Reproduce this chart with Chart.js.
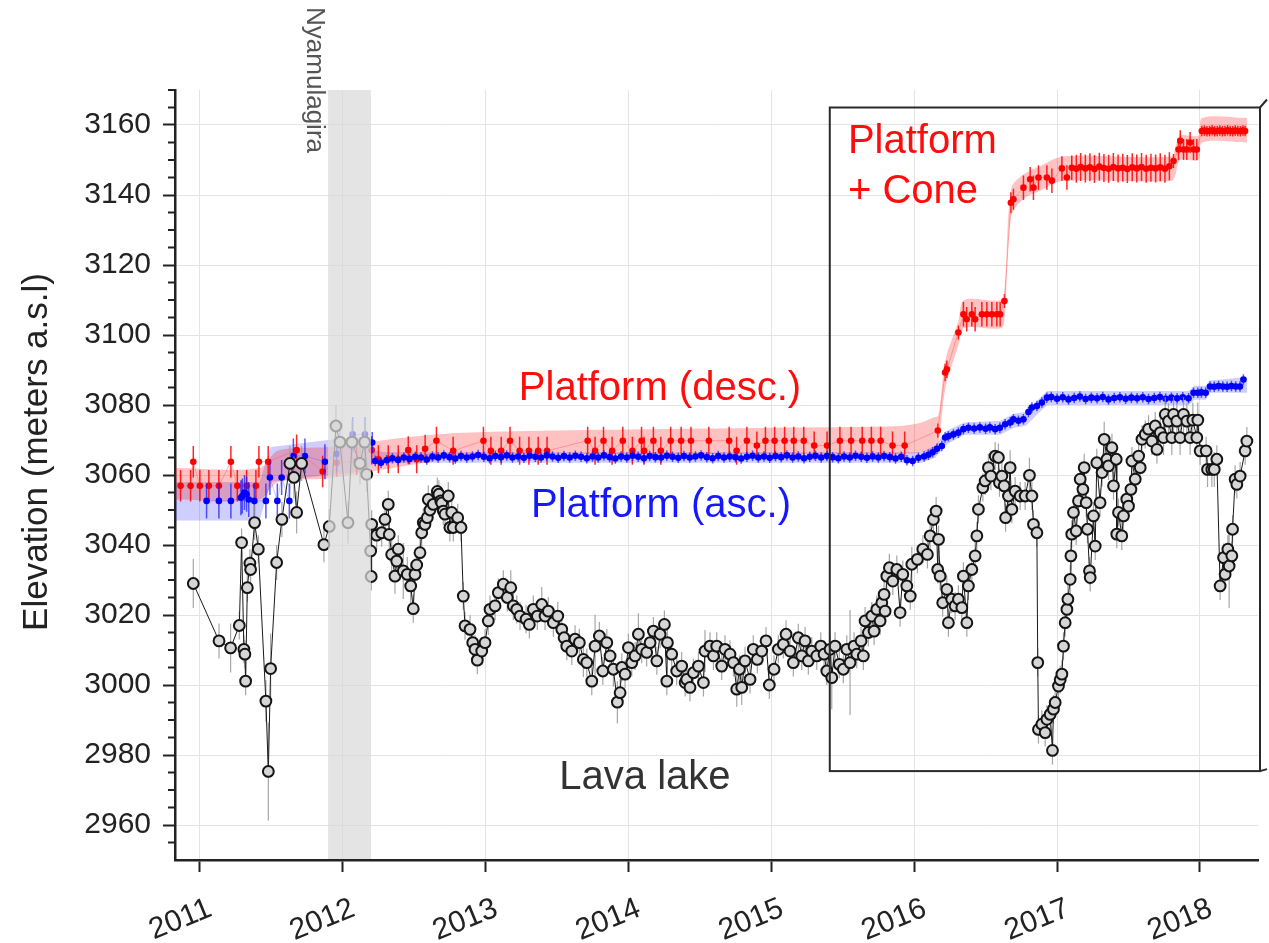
<!DOCTYPE html>
<html>
<head>
<meta charset="utf-8">
<title>Lava lake and platform elevation</title>
<script src="https://cdn.jsdelivr.net/npm/chart.js@4.4.1/dist/chart.umd.min.js"></script>
<style>
  html, body { margin: 0; padding: 0; background: #fff; }
  canvas { display: block; }
</style>
</head>
<body>
<canvas id="chart" width="1269" height="943"></canvas>
<script>
// ---------- Axis ticks ----------
const xTickYears = [2011, 2012, 2013, 2014, 2015, 2016, 2017, 2018];
const yTickValues = [2960, 2980, 3000, 3020, 3040, 3060, 3080, 3100, 3120, 3140, 3160];

// ---------- Lava lake elevation (decimal year, m a.s.l., +/- error) ----------
const lakeYear = [
  2010.957, 2011.137, 2011.218, 2011.279, 2011.295, 2011.311, 2011.318, 2011.323, 2011.335, 2011.353,
  2011.358, 2011.386, 2011.412, 2011.465, 2011.482, 2011.498, 2011.540, 2011.577, 2011.633, 2011.661,
  2011.680, 2011.715, 2011.871, 2011.908, 2011.955, 2011.983, 2012.039, 2012.067, 2012.123, 2012.156,
  2012.170, 2012.198, 2012.202, 2012.205, 2012.240, 2012.275, 2012.298, 2012.321, 2012.328, 2012.345,
  2012.368, 2012.380, 2012.391, 2012.426, 2012.454, 2012.478, 2012.496, 2012.508, 2012.520, 2012.543,
  2012.555, 2012.566, 2012.578, 2012.594, 2012.601, 2012.613, 2012.636, 2012.664, 2012.675, 2012.688,
  2012.695, 2012.706, 2012.718, 2012.741, 2012.752, 2012.765, 2012.776, 2012.807, 2012.830, 2012.846,
  2012.858, 2012.893, 2012.912, 2012.928, 2012.944, 2012.975, 2012.998, 2013.021, 2013.033, 2013.068,
  2013.091, 2013.126, 2013.154, 2013.178, 2013.196, 2013.220, 2013.243, 2013.285, 2013.308, 2013.336,
  2013.364, 2013.395, 2013.418, 2013.441, 2013.476, 2013.507, 2013.535, 2013.551, 2013.570, 2013.605,
  2013.628, 2013.658, 2013.686, 2013.710, 2013.745, 2013.768, 2013.798, 2013.822, 2013.850, 2013.873,
  2013.896, 2013.924, 2013.943, 2013.955, 2013.978, 2014.001, 2014.025, 2014.048, 2014.071, 2014.094,
  2014.129, 2014.153, 2014.176, 2014.200, 2014.223, 2014.253, 2014.270, 2014.274, 2014.304, 2014.339,
  2014.374, 2014.398, 2014.409, 2014.432, 2014.456, 2014.491, 2014.526, 2014.537, 2014.572, 2014.596,
  2014.619, 2014.654, 2014.677, 2014.712, 2014.736, 2014.759, 2014.778, 2014.794, 2014.817, 2014.852,
  2014.875, 2014.903, 2014.934, 2014.964, 2014.987, 2015.020, 2015.050, 2015.085, 2015.104, 2015.132,
  2015.155, 2015.190, 2015.214, 2015.237, 2015.260, 2015.284, 2015.319, 2015.347, 2015.370, 2015.389,
  2015.412, 2015.424, 2015.447, 2015.477, 2015.505, 2015.529, 2015.552, 2015.580, 2015.599, 2015.629,
  2015.645, 2015.657, 2015.680, 2015.704, 2015.720, 2015.739, 2015.762, 2015.774, 2015.790, 2015.797,
  2015.809, 2015.827, 2015.851, 2015.879, 2015.902, 2015.921, 2015.949, 2015.973, 2015.984, 2016.023,
  2016.061, 2016.093, 2016.112, 2016.135, 2016.154, 2016.165, 2016.171, 2016.182, 2016.200, 2016.229,
  2016.240, 2016.263, 2016.287, 2016.310, 2016.334, 2016.345, 2016.369, 2016.380, 2016.404, 2016.427,
  2016.439, 2016.450, 2016.481, 2016.497, 2016.520, 2016.537, 2016.567, 2016.590, 2016.597, 2016.614,
  2016.630, 2016.640, 2016.660, 2016.672, 2016.684, 2016.707, 2016.742, 2016.777, 2016.807, 2016.824,
  2016.835, 2016.859, 2016.865, 2016.870, 2016.894, 2016.917, 2016.929, 2016.952, 2016.968, 2016.975,
  2016.987, 2017.010, 2017.022, 2017.034, 2017.045, 2017.057, 2017.069, 2017.076, 2017.092, 2017.097,
  2017.103, 2017.115, 2017.134, 2017.150, 2017.162, 2017.181, 2017.190, 2017.204, 2017.213, 2017.227,
  2017.232, 2017.255, 2017.267, 2017.278, 2017.301, 2017.315, 2017.330, 2017.349, 2017.360, 2017.384,
  2017.395, 2017.414, 2017.418, 2017.430, 2017.453, 2017.465, 2017.488, 2017.500, 2017.517, 2017.524,
  2017.547, 2017.571, 2017.582, 2017.594, 2017.617, 2017.640, 2017.664, 2017.687, 2017.699, 2017.722,
  2017.745, 2017.757, 2017.780, 2017.803, 2017.815, 2017.838, 2017.861, 2017.885, 2017.908, 2017.931,
  2017.950, 2017.978, 2017.985, 2018.001, 2018.043, 2018.053, 2018.083, 2018.100, 2018.118, 2018.141,
  2018.165, 2018.176, 2018.195, 2018.204, 2018.223, 2018.228, 2018.246, 2018.258, 2018.281, 2018.316,
  2018.328
];
const lakeElev = [
  3029.0, 3012.6, 3010.6, 3017.0, 3040.7, 3010.2, 3008.8, 3001.1, 3027.8, 3034.8,
  3033.0, 3046.4, 3038.8, 2995.4, 2975.3, 3004.7, 3035.0, 3047.3, 3063.3, 3059.3,
  3049.3, 3063.3, 3040.1, 3045.3, 3074.0, 3069.4, 3046.4, 3069.4, 3063.3, 3069.4,
  3060.2, 3038.3, 3031.0, 3045.9, 3042.8, 3043.5, 3047.3, 3051.6, 3043.0, 3037.3,
  3031.1, 3035.4, 3038.8, 3032.6, 3031.6, 3028.3, 3021.8, 3031.6, 3034.3, 3037.8,
  3043.5, 3046.4, 3045.9, 3047.8, 3053.0, 3050.0, 3051.6, 3055.3, 3054.5, 3052.6,
  3052.0, 3049.7, 3048.8, 3054.0, 3045.0, 3049.3, 3045.0, 3047.8, 3045.0, 3025.4,
  3016.9, 3015.9, 3012.1, 3010.2, 3007.1, 3009.7, 3012.1, 3018.3, 3021.6, 3022.6,
  3026.4, 3028.8, 3025.0, 3027.8, 3022.6, 3021.6, 3019.7, 3018.8, 3017.3, 3021.6,
  3019.7, 3023.0, 3019.7, 3021.1, 3017.8, 3019.7, 3015.9, 3013.5, 3011.1, 3009.7,
  3013.1, 3012.1, 3007.3, 3006.4, 3001.1, 3011.1, 3014.0, 3004.0, 3012.1, 3008.3,
  3004.5, 2995.1, 2997.8, 3005.0, 3003.1, 3010.7, 3006.4, 3008.3, 3014.5, 3010.2,
  3009.3, 3012.1, 3015.4, 3006.9, 3014.5, 3017.3, 3001.1, 3012.1, 3008.8, 3004.0,
  3005.4, 3000.7, 3001.6, 2999.3, 3003.5, 3005.4, 3000.7, 3009.7, 3011.1, 3008.3,
  3011.1, 3005.4, 3010.2, 3008.8, 3006.4, 2998.8, 3004.5, 2999.3, 3006.9, 3001.6,
  3010.2, 3007.3, 3009.7, 3012.6, 3000.0, 3004.5, 3010.2, 3011.6, 3014.5, 3009.7,
  3006.4, 3013.5, 3008.3, 3012.6, 3006.9, 3009.7, 3008.3, 3011.1, 3008.8, 3004.0,
  3010.2, 3002.1, 3011.1, 3005.9, 3004.5, 3010.2, 3006.4, 3011.1, 3008.8, 3012.6,
  3008.3, 3018.3, 3015.0, 3019.7, 3015.4, 3021.6, 3018.3, 3023.5, 3025.9, 3021.1,
  3031.1, 3033.5, 3029.7, 3033.0, 3020.7, 3031.6, 3028.3, 3025.4, 3034.5, 3035.9,
  3038.8, 3037.3, 3042.6, 3047.3, 3049.7, 3033.0, 3041.6, 3031.1, 3023.5, 3027.3,
  3017.8, 3024.5, 3022.6, 3024.5, 3022.1, 3031.1, 3017.8, 3028.3, 3033.0, 3036.9,
  3042.6, 3050.2, 3056.4, 3058.3, 3062.1, 3059.7, 3065.4, 3065.0, 3057.8, 3059.7,
  3056.9, 3047.8, 3054.0, 3062.1, 3050.2, 3055.4, 3054.0, 3054.0, 3059.9, 3054.0,
  3045.9, 3043.5, 3006.4, 2987.3, 2988.8, 2986.4, 2990.2, 2991.6, 2981.3, 2993.1,
  2995.0, 2999.7, 3001.5, 3003.1, 3011.1, 3017.8, 3021.6, 3024.5, 3030.2, 3036.9,
  3043.1, 3049.3, 3044.0, 3052.6, 3058.8, 3055.9, 3062.1, 3052.1, 3044.5, 3032.6,
  3030.7, 3048.3, 3039.7, 3063.5, 3052.1, 3060.7, 3070.2, 3064.5, 3062.6, 3067.8,
  3056.9, 3064.5, 3043.1, 3049.3, 3042.6, 3048.3, 3053.1, 3051.1, 3055.9, 3064.0,
  3058.8, 3065.4, 3062.1, 3070.2, 3071.6, 3073.1, 3069.7, 3074.0, 3067.3, 3072.1,
  3070.7, 3077.3, 3075.4, 3070.7, 3077.3, 3075.4, 3070.7, 3077.3, 3075.4, 3070.7,
  3075.7, 3070.7, 3075.7, 3066.9, 3066.9, 3061.6, 3061.6, 3061.6, 3064.5, 3028.3,
  3036.4, 3031.6, 3038.8, 3034.0, 3036.9, 3044.5, 3058.8, 3057.3, 3059.7, 3066.9,
  3069.7
];
const lakeErr = [
  7, 5, 7, 4, 4, 4, 4, 4, 4, 4,
  4, 5, 4, 6, 14, 10, 5, 5, 5, 6,
  6, 5, 5, 5, 6, 6, 6, 6, 6, 5,
  5, 4, 4, 4, 4, 4, 4, 4, 4, 5,
  5, 5, 4, 8, 5, 6, 4, 4, 4, 4,
  4, 4, 4, 4, 4, 4, 4, 4, 4, 4,
  4, 4, 4, 4, 4, 4, 4, 4, 4, 4,
  4, 4, 4, 4, 4, 4, 4, 4, 4, 4,
  4, 4, 4, 5, 4, 4, 4, 4, 4, 4,
  4, 5, 4, 4, 4, 4, 4, 4, 4, 4,
  4, 4, 5, 4, 4, 9, 4, 4, 4, 4,
  5, 6, 4, 4, 4, 4, 4, 4, 6, 4,
  4, 4, 4, 4, 4, 4, 4, 4, 4, 4,
  4, 4, 4, 4, 4, 4, 4, 6, 4, 4,
  4, 4, 4, 4, 4, 5, 4, 5, 4, 4,
  4, 4, 4, 4, 4, 4, 4, 4, 4, 4,
  4, 4, 4, 4, 4, 4, 4, 4, 4, 4,
  4, 9, 4, 4, 4, 4, 15, 4, 4, 4,
  4, 4, 4, 4, 4, 4, 4, 4, 4, 4,
  4, 4, 4, 4, 4, 4, 4, 4, 5, 4,
  4, 4, 4, 4, 4, 4, 4, 4, 4, 4,
  4, 4, 4, 4, 4, 4, 4, 4, 4, 4,
  4, 4, 4, 4, 4, 4, 4, 4, 4, 4,
  4, 4, 4, 5, 4, 4, 4, 4, 5, 4,
  4, 4, 4, 4, 4, 4, 4, 4, 4, 4,
  4, 4, 4, 4, 4, 4, 4, 4, 4, 4,
  4, 4, 4, 4, 4, 4, 4, 4, 4, 4,
  4, 4, 4, 4, 4, 4, 5, 4, 4, 4,
  4, 4, 4, 4, 4, 4, 4, 4, 4, 4,
  4, 4, 4, 4, 4, 4, 4, 4, 4, 4,
  5, 5, 5, 5, 5, 5, 5, 5, 5, 5,
  5, 5, 5, 4, 4, 5, 5, 5, 4, 4,
  4, 4, 4, 12, 4, 4, 4, 4, 4, 4,
  4
];

// ---------- Platform, descending track ----------
const descYear = [
  2010.868, 2010.938, 2010.957, 2011.003, 2011.066, 2011.136, 2011.220, 2011.265, 2011.330, 2011.395,
  2011.416, 2011.481, 2011.680, 2011.862, 2011.960, 2012.100, 2012.205, 2012.252, 2012.321, 2012.391,
  2012.461, 2012.520, 2012.579, 2012.658, 2012.775, 2012.987, 2013.039, 2013.111, 2013.173, 2013.240,
  2013.305, 2013.370, 2013.432, 2013.716, 2013.768, 2013.827, 2013.887, 2013.962, 2014.029, 2014.093,
  2014.111, 2014.176, 2014.228, 2014.297, 2014.370, 2014.439, 2014.564, 2014.706, 2014.758, 2014.830,
  2014.900, 2014.960, 2015.024, 2015.094, 2015.158, 2015.228, 2015.301, 2015.391, 2015.481, 2015.559,
  2015.637, 2015.701, 2015.766, 2015.849, 2015.934, 2016.166, 2016.217, 2016.229, 2016.310, 2016.345,
  2016.368, 2016.404, 2016.427, 2016.474, 2016.509, 2016.544, 2016.579, 2016.602, 2016.632, 2016.677,
  2016.695, 2016.765, 2016.812, 2016.835, 2016.870, 2016.929, 2016.964, 2017.034, 2017.069, 2017.103,
  2017.135, 2017.165, 2017.198, 2017.230, 2017.262, 2017.296, 2017.328, 2017.361, 2017.394, 2017.427,
  2017.460, 2017.492, 2017.526, 2017.558, 2017.591, 2017.624, 2017.657, 2017.690, 2017.722, 2017.755,
  2017.786, 2017.815, 2017.850, 2017.862, 2017.885, 2017.908, 2017.931, 2017.955, 2017.978, 2018.013,
  2018.031, 2018.049, 2018.067, 2018.085, 2018.103, 2018.121, 2018.139, 2018.157, 2018.175, 2018.193,
  2018.211, 2018.229, 2018.247, 2018.265, 2018.283, 2018.301, 2018.316
];
const descElev = [
  3056.9, 3056.9, 3063.8, 3056.9, 3056.9, 3056.9, 3063.8, 3056.9, 3056.9, 3056.9,
  3063.8, 3063.8, 3067.1, 3061.0, 3063.5, 3064.0, 3067.1, 3064.5, 3064.5, 3064.5,
  3067.1, 3064.5, 3067.5, 3069.8, 3066.9, 3069.8, 3066.9, 3066.9, 3069.8, 3066.9,
  3066.9, 3066.9, 3066.9, 3069.8, 3066.9, 3069.8, 3066.9, 3069.8, 3066.9, 3069.8,
  3066.9, 3069.8, 3066.9, 3069.8, 3069.8, 3069.8, 3069.8, 3069.8, 3066.9, 3069.8,
  3068.4, 3069.8, 3069.8, 3069.8, 3069.8, 3069.8, 3068.4, 3068.4, 3069.8, 3069.8,
  3069.8, 3069.8, 3069.8, 3068.4, 3068.4, 3072.7, 3089.3, 3090.2, 3100.7, 3105.9,
  3104.5, 3105.9, 3104.5, 3105.9, 3105.9, 3105.9, 3105.9, 3105.9, 3109.7, 3137.8,
  3138.8, 3142.1, 3144.5, 3142.1, 3145.0, 3145.0, 3144.1, 3147.6, 3145.0, 3147.8,
  3147.5, 3148.0, 3147.6, 3147.9, 3147.4, 3148.1, 3147.7, 3147.5, 3148.0, 3147.6,
  3147.8, 3147.4, 3147.9, 3147.6, 3148.0, 3147.5, 3147.8, 3147.6, 3147.9, 3147.5,
  3148.2, 3149.7, 3153.0, 3155.5, 3153.0, 3153.0, 3155.0, 3153.0, 3153.0, 3158.3,
  3158.4, 3158.2, 3158.3, 3158.5, 3158.2, 3158.3, 3158.4, 3158.2, 3158.3, 3158.5,
  3158.3, 3158.2, 3158.4, 3158.3, 3158.2, 3158.4, 3158.3
];
const descErr = [
  4.5, 4.5, 4.5, 4.5, 4.5, 4.5, 4.5, 4.5, 4.5, 4.5,
  4.5, 4.5, 4.5, 4.5, 4, 4, 4, 4, 4, 4,
  4, 4, 4, 4, 4, 4, 4, 4, 4, 4,
  4, 4, 4, 4, 4, 4, 4, 4, 4, 4,
  4, 4, 4, 4, 4, 4, 4, 4, 4, 4,
  4, 4, 4, 4, 4, 4, 4, 4, 4, 4,
  4, 4, 4, 4, 4, 2, 2.5, 2.5, 2, 3.5,
  3.5, 3.5, 3.5, 3.5, 3.5, 3.5, 3.5, 3.5, 2, 3,
  3, 3.5, 3.5, 3.5, 3.5, 3.5, 3.5, 3.5, 3.5, 3.5,
  4, 4, 4, 4, 4, 4, 4, 4, 4, 4,
  4, 4, 4, 4, 4, 4, 4, 4, 4, 4,
  4, 2, 3, 3, 3, 3, 3, 3, 3, 1.5,
  1.5, 1.5, 1.5, 1.5, 1.5, 1.5, 1.5, 1.5, 1.5, 1.5,
  1.5, 1.5, 1.5, 1.5, 1.5, 1.5, 1.5
];
// Uncertainty envelope, descending track
const descBandYear = [2010.83, 2011.42, 2011.55, 2011.90, 2012.20, 2012.50, 2012.80, 2013.20, 2014.00, 2015.00,
  2015.90, 2016.05, 2016.14, 2016.17, 2016.22, 2016.31, 2016.35, 2016.61, 2016.635, 2016.68,
  2016.77, 2016.87, 2017.04, 2017.80, 2017.83, 2017.86, 2017.99, 2018.015, 2018.33];
const descBandLow = [3053, 3053, 3058, 3059, 3061, 3063, 3065, 3066, 3066, 3066,
  3066, 3066.5, 3067.5, 3069, 3085, 3097, 3102, 3102, 3106, 3134,
  3139, 3141, 3144, 3144, 3146, 3150, 3150, 3155, 3155];
const descBandHigh = [3062, 3062, 3067, 3068, 3069.5, 3071, 3072, 3072.5, 3073, 3073.5,
  3074, 3075, 3076.5, 3077, 3093, 3104, 3110, 3110, 3114, 3142,
  3146, 3148, 3151, 3151, 3154, 3157, 3157, 3162, 3162];

// ---------- Platform, ascending track ----------
const ascYear = [
  2011.050, 2011.136, 2011.220, 2011.290, 2011.300, 2011.315, 2011.330, 2011.345, 2011.384, 2011.465,
  2011.493, 2011.545, 2011.575, 2011.629, 2011.657, 2011.738, 2011.878, 2011.960, 2012.072, 2012.158,
  2012.209, 2012.23, 2012.27, 2012.31, 2012.35, 2012.39, 2012.43, 2012.47, 2012.51, 2012.55,
  2012.59, 2012.63, 2012.67, 2012.71, 2012.75, 2012.79, 2012.83, 2012.87, 2012.91, 2012.95,
  2012.99, 2013.03, 2013.07, 2013.11, 2013.15, 2013.19, 2013.23, 2013.27, 2013.31, 2013.35,
  2013.39, 2013.43, 2013.47, 2013.51, 2013.55, 2013.59, 2013.63, 2013.67, 2013.71, 2013.75,
  2013.79, 2013.83, 2013.87, 2013.91, 2013.95, 2013.99, 2014.03, 2014.07, 2014.11, 2014.15,
  2014.19, 2014.23, 2014.27, 2014.31, 2014.35, 2014.39, 2014.43, 2014.47, 2014.51, 2014.55,
  2014.59, 2014.63, 2014.67, 2014.71, 2014.75, 2014.79, 2014.83, 2014.87, 2014.91, 2014.95,
  2014.99, 2015.03, 2015.07, 2015.11, 2015.15, 2015.19, 2015.23, 2015.27, 2015.31, 2015.35,
  2015.39, 2015.43, 2015.47, 2015.51, 2015.55, 2015.59, 2015.63, 2015.67, 2015.71, 2015.75,
  2015.79, 2015.83, 2015.87, 2015.91, 2015.95, 2015.99, 2016.03, 2016.07, 2016.10, 2016.13,
  2016.16, 2016.194, 2016.217, 2016.240, 2016.275, 2016.310, 2016.345, 2016.380, 2016.42, 2016.46,
  2016.50, 2016.53, 2016.567, 2016.600, 2016.637, 2016.672, 2016.695, 2016.73, 2016.765, 2016.80,
  2016.824, 2016.859, 2016.894, 2016.929, 2016.96, 2017.00, 2017.04, 2017.08, 2017.12, 2017.16,
  2017.20, 2017.24, 2017.28, 2017.32, 2017.36, 2017.40, 2017.44, 2017.48, 2017.52, 2017.56,
  2017.60, 2017.64, 2017.68, 2017.72, 2017.76, 2017.80, 2017.84, 2017.88, 2017.92, 2017.955,
  2017.985, 2018.010, 2018.040, 2018.070, 2018.10, 2018.13, 2018.16, 2018.19, 2018.22, 2018.25,
  2018.28, 2018.304
];
const ascElev = [
  3052.6, 3052.6, 3052.6, 3053.5, 3054.0, 3055.0, 3054.5, 3053.0, 3052.6, 3052.6,
  3059.3, 3052.6, 3059.3, 3052.6, 3065.4, 3065.4, 3063.8, 3066.0, 3071.6, 3071.6,
  3069.3, 3064.0, 3063.5, 3064.2, 3064.8, 3064.3, 3065.0, 3064.6, 3065.2, 3065.0,
  3064.4, 3065.3, 3065.0, 3065.6, 3065.1, 3064.7, 3065.4, 3065.0, 3065.3, 3065.7,
  3065.2, 3064.8, 3065.4, 3065.1, 3065.6, 3065.0, 3065.3, 3064.9, 3065.5, 3065.2,
  3065.0, 3065.6, 3065.3, 3064.9, 3065.4, 3065.0, 3065.5, 3065.2, 3064.8, 3065.3,
  3065.0, 3065.6, 3065.1, 3064.7, 3065.3, 3065.0, 3065.5, 3065.2, 3064.8, 3065.4,
  3065.1, 3065.0, 3065.5, 3065.2, 3064.9, 3065.4, 3065.0, 3065.3, 3065.6, 3065.1,
  3064.8, 3065.4, 3065.0, 3065.3, 3065.1, 3064.7, 3065.2, 3065.5, 3065.0, 3065.3,
  3064.9, 3065.4, 3065.1, 3065.6, 3065.0, 3065.3, 3064.8, 3065.2, 3065.5, 3065.0,
  3065.4, 3065.1, 3064.8, 3065.3, 3065.0, 3065.5, 3065.2, 3064.9, 3065.3, 3065.0,
  3065.4, 3065.1, 3064.7, 3065.2, 3064.2, 3064.0, 3064.9, 3065.3, 3065.8, 3066.5,
  3067.5, 3068.3, 3070.7, 3071.1, 3071.6, 3072.1, 3073.1, 3073.5, 3073.3, 3073.6,
  3073.2, 3073.6, 3073.1, 3073.5, 3074.5, 3075.0, 3075.9, 3075.5, 3075.9, 3078.0,
  3079.3, 3079.7, 3080.7, 3082.1, 3082.3, 3081.8, 3082.2, 3081.6, 3082.0, 3082.4,
  3081.7, 3082.1, 3081.9, 3082.3, 3081.6, 3082.0, 3082.2, 3081.8, 3082.1, 3081.9,
  3082.2, 3081.7, 3082.0, 3082.3, 3081.8, 3082.1, 3081.9, 3082.2, 3081.9, 3083.5,
  3083.5, 3083.6, 3083.5, 3085.3, 3085.2, 3085.4, 3085.3, 3085.2, 3085.4, 3085.3,
  3085.3, 3087.3
];
const ascErr = [
  5, 5, 5, 5, 5, 5, 5, 5, 5, 5,
  5, 5, 5, 5, 5, 5, 5, 5, 5, 5,
  3, 1.5, 1.5, 1.5, 1.5, 1.5, 1.5, 1.5, 1.5, 1.5,
  1.5, 1.5, 1.5, 1.5, 1.5, 1.5, 1.5, 1.5, 1.5, 1.5,
  1.5, 1.5, 1.5, 1.5, 1.5, 1.5, 1.5, 1.5, 1.5, 1.5,
  1.5, 1.5, 1.5, 1.5, 1.5, 1.5, 1.5, 1.5, 1.5, 1.5,
  1.5, 1.5, 1.5, 1.5, 1.5, 1.5, 1.5, 1.5, 1.5, 1.5,
  1.5, 1.5, 1.5, 1.5, 1.5, 1.5, 1.5, 1.5, 1.5, 1.5,
  1.5, 1.5, 1.5, 1.5, 1.5, 1.5, 1.5, 1.5, 1.5, 1.5,
  1.5, 1.5, 1.5, 1.5, 1.5, 1.5, 1.5, 1.5, 1.5, 1.5,
  1.5, 1.5, 1.5, 1.5, 1.5, 1.5, 1.5, 1.5, 1.5, 1.5,
  1.5, 1.5, 1.5, 1.5, 1.5, 1.5, 1.5, 1.5, 1.5, 1.5,
  1.5, 1.5, 1.5, 1.5, 1.5, 1.5, 1.5, 1.5, 1.5, 1.5,
  1.5, 1.5, 1.5, 1.5, 1.5, 1.5, 1.5, 1.5, 1.5, 1.5,
  1.5, 1.5, 1.5, 1.5, 1.5, 1.5, 1.5, 1.5, 1.5, 1.5,
  1.5, 1.5, 1.5, 1.5, 1.5, 1.5, 1.5, 1.5, 1.5, 1.5,
  1.5, 1.5, 1.5, 1.5, 1.5, 1.5, 1.5, 1.5, 1.5, 1.5,
  1.5, 1.5, 1.5, 1.5, 1.5, 1.5, 1.5, 1.5, 1.5, 1.5,
  1.5, 1.5
];
// Uncertainty envelope, ascending track
const ascBandYear = [2010.83, 2011.42, 2011.50, 2011.90, 2012.15, 2012.21, 2012.30, 2016.05, 2016.15, 2016.22,
  2016.35, 2016.60, 2016.70, 2016.78, 2016.93, 2017.92, 2017.96, 2018.04, 2018.07, 2018.33];
const ascBandLow = [3047, 3047, 3058, 3060, 3061, 3063, 3063.5, 3063.5, 3065, 3068.5,
  3071.5, 3071.5, 3073.5, 3074, 3080, 3080, 3081.5, 3081.5, 3083.5, 3083.5];
const ascBandHigh = [3058, 3058, 3068, 3070, 3071, 3067, 3066.5, 3066.5, 3068.5, 3072.5,
  3075, 3075.5, 3077.5, 3078, 3084, 3084, 3085.5, 3085.5, 3087, 3088];

// ---------- Highlighted periods ----------
const eruptionSpan = [2011.90, 2012.20];            // Nyamulagira eruption
const coneBox = { x0: 2015.41, x1: 2018.42, y0: 2975.4, y1: 3165 };

// ---------- Styling ----------
const FONT = '"Liberation Sans", Arial, Helvetica, sans-serif';
const INK = '#222';

const notes = [
  { text: 'Platform (desc.)', x: 2014.222, y: 3081.4, color: '#ff0d0d', align: 'center' },
  { text: 'Platform (asc.)',  x: 2014.229, y: 3048.0, color: '#1717ff', align: 'center' },
  { text: 'Lava lake',        x: 2014.117, y: 2970.3, color: '#333333', align: 'center' },
  { text: 'Platform',         x: 2015.537, y: 3152.0, color: '#ff0d0d', align: 'left' },
  { text: '+ Cone',           x: 2015.537, y: 3137.7, color: '#ff0d0d', align: 'left' }
];

function toPoints(xs, ys) { return xs.map((x, i) => ({ x: x, y: ys[i] })); }

// Vertical error bars, painted just beneath the markers of their own series
const errorBars = {
  id: 'errorBars',
  beforeDatasetDraw(chart, args) {
    const ds = chart.data.datasets[args.index];
    if (!ds.errs) return;
    const { ctx, chartArea: a } = chart;
    const xs = chart.scales.x, ys = chart.scales.y;
    ctx.save();
    ctx.beginPath();
    ctx.rect(a.left, a.top, a.right - a.left, a.bottom - a.top);
    ctx.clip();
    ctx.strokeStyle = ds.errColor;
    ctx.lineWidth = ds.errWidth;
    ctx.beginPath();
    ds.data.forEach((p, i) => {
      const e = ds.errs[i];
      if (!e) return;
      const px = xs.getPixelForValue(p.x);
      ctx.moveTo(px, ys.getPixelForValue(p.y - e));
      ctx.lineTo(px, ys.getPixelForValue(p.y + e));
    });
    ctx.stroke();
    ctx.restore();
  }
};

// Eruption shading, inset frame and text labels
const overlays = {
  id: 'overlays',
  afterDatasetsDraw(chart) {
    const { ctx, chartArea: a } = chart;
    const xs = chart.scales.x, ys = chart.scales.y;
    ctx.save();

    // Nyamulagira eruption period
    const bx0 = xs.getPixelForValue(eruptionSpan[0]);
    const bx1 = xs.getPixelForValue(eruptionSpan[1]);
    ctx.fillStyle = 'rgba(218,218,218,0.72)';
    ctx.fillRect(bx0, a.top, bx1 - bx0, a.bottom - a.top - 1);

    // Platform + cone frame
    const fx0 = xs.getPixelForValue(coneBox.x0), fx1 = xs.getPixelForValue(coneBox.x1);
    const fy0 = ys.getPixelForValue(coneBox.y0), fy1 = ys.getPixelForValue(coneBox.y1);
    ctx.strokeStyle = '#2a2a2a';
    ctx.lineWidth = 2;
    ctx.strokeRect(fx0, fy1, fx1 - fx0, fy0 - fy1);
    ctx.beginPath();
    ctx.moveTo(fx1, fy1); ctx.lineTo(fx1 + 7, fy1 - 8);
    ctx.moveTo(fx1, fy0); ctx.lineTo(fx1 + 7, fy0 - 2);
    ctx.stroke();

    // Labels
    ctx.font = '40px ' + FONT;
    ctx.textBaseline = 'alphabetic';
    notes.forEach(n => {
      ctx.fillStyle = n.color;
      ctx.textAlign = n.align;
      ctx.fillText(n.text, xs.getPixelForValue(n.x), ys.getPixelForValue(n.y));
    });

    ctx.save();
    ctx.translate(xs.getPixelForValue(2011.752), ys.getPixelForValue(3193.7));
    ctx.rotate(Math.PI / 2);
    ctx.font = '26px ' + FONT;
    ctx.fillStyle = '#555';
    ctx.textAlign = 'left';
    ctx.fillText('Nyamulagira', 0, 0);
    ctx.restore();

    ctx.restore();
  },
  afterDraw(chart) {
    const { ctx, chartArea: a } = chart;
    const ys = chart.scales.y;
    ctx.save();
    // minor ticks on the elevation axis every 5 m
    ctx.strokeStyle = INK;
    ctx.lineWidth = 2;
    ctx.beginPath();
    for (let v = 2955; v <= 3170; v += 5) {
      if (v % 20 === 0) continue;
      const py = ys.getPixelForValue(v);
      ctx.moveTo(a.left - 7, py);
      ctx.lineTo(a.left, py);
    }
    ctx.stroke();

    // axis title
    ctx.translate(37, 452);
    ctx.rotate(-Math.PI / 2);
    ctx.font = '35px ' + FONT;
    ctx.fillStyle = INK;
    ctx.textAlign = 'center';
    ctx.textBaseline = 'middle';
    ctx.fillText('Elevation (meters a.s.l)', 0, 0);
    ctx.restore();
  }
};

const gridStyle = { color: '#e3e3e3', lineWidth: 1, drawTicks: true, tickLength: 12, tickColor: INK, tickWidth: 2 };

new Chart(document.getElementById('chart'), {
  type: 'scatter',
  data: {
    datasets: [
      {
        label: 'Lava lake', data: toPoints(lakeYear, lakeElev),
        errs: lakeErr, errColor: 'rgba(150,150,150,0.85)', errWidth: 1.2,
        showLine: true, borderColor: '#1a1a1a', borderWidth: 1,
        pointRadius: 5.4, pointBorderWidth: 2, pointBorderColor: '#141414', pointBackgroundColor: '#d6d6d6',
        order: 1
      },
      {
        label: 'Platform (asc.)', data: toPoints(ascYear, ascElev),
        errs: ascErr, errColor: 'rgba(20,20,255,0.7)', errWidth: 1.5,
        showLine: true, borderColor: 'rgba(90,90,255,0.35)', borderWidth: 1,
        pointRadius: 3.3, pointBorderWidth: 0, pointBackgroundColor: '#0000ff',
        order: 2
      },
      {
        label: 'Platform (desc.)', data: toPoints(descYear, descElev),
        errs: descErr, errColor: 'rgba(255,0,0,0.85)', errWidth: 1.5,
        showLine: true, borderColor: 'rgba(255,90,90,0.45)', borderWidth: 1,
        pointRadius: 3.3, pointBorderWidth: 0, pointBackgroundColor: '#ff0000',
        order: 3
      },
      {
        label: 'desc. upper', data: toPoints(descBandYear, descBandHigh),
        showLine: true, fill: '+1', backgroundColor: 'rgba(255,0,0,0.24)',
        borderColor: 'rgba(0,0,0,0)', borderWidth: 0, pointRadius: 0, tension: 0.3, order: 5
      },
      {
        label: 'desc. lower', data: toPoints(descBandYear, descBandLow),
        showLine: true, fill: false, borderColor: 'rgba(0,0,0,0)', borderWidth: 0, pointRadius: 0, tension: 0.3, order: 5
      },
      {
        label: 'asc. upper', data: toPoints(ascBandYear, ascBandHigh),
        showLine: true, fill: '+1', backgroundColor: 'rgba(30,30,255,0.22)',
        borderColor: 'rgba(0,0,0,0)', borderWidth: 0, pointRadius: 0, order: 6
      },
      {
        label: 'asc. lower', data: toPoints(ascBandYear, ascBandLow),
        showLine: true, fill: false, borderColor: 'rgba(0,0,0,0)', borderWidth: 0, pointRadius: 0, order: 6
      }
    ]
  },
  options: {
    responsive: false,
    animation: false,
    devicePixelRatio: 1,
    layout: { padding: { top: 90, right: 11, bottom: 0, left: 0 } },
    plugins: { legend: { display: false }, tooltip: { enabled: false } },
    elements: { line: { tension: 0 } },
    scales: {
      x: {
        type: 'linear', min: 2010.829, max: 2018.406,
        afterBuildTicks: s => { s.ticks = xTickYears.map(v => ({ value: v })); },
        afterFit: s => { s.height = 83; },
        grid: gridStyle,
        border: { display: true, color: INK, width: 2.5 },
        ticks: {
          autoSkip: false, minRotation: 22, maxRotation: 22, padding: 19, labelOffset: 11,
          color: INK, font: { family: FONT, size: 30 },
          callback: v => String(v)
        }
      },
      y: {
        type: 'linear', min: 2950, max: 3170,
        afterBuildTicks: s => { s.ticks = yTickValues.map(v => ({ value: v })); },
        afterFit: s => { s.width = 175; },
        grid: gridStyle,
        border: { display: true, color: INK, width: 2.5 },
        ticks: {
          padding: 12, color: INK, font: { family: FONT, size: 30 },
          callback: v => String(v)
        }
      }
    }
  },
  plugins: [errorBars, overlays]
});
</script>
</body>
</html>
